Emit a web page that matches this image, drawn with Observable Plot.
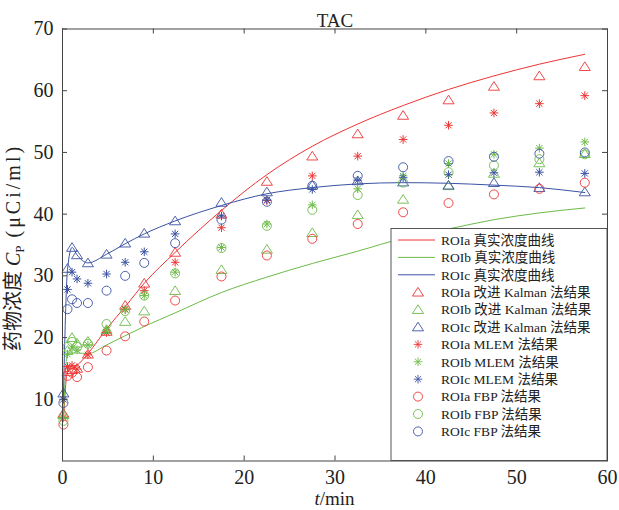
<!DOCTYPE html>
<html><head><meta charset="utf-8">
<script src="https://cdn.jsdelivr.net/npm/d3@7"></script>
<script src="https://cdn.jsdelivr.net/npm/@observablehq/plot@0.6"></script>
<style>body{margin:0;background:#fff;}</style>
</head><body><div id="chart"></div>
<script>
// sample times (min)
const times = [0.1, 0.55, 1.05, 1.6, 2.8, 4.85, 6.9, 9, 12.4, 17.5, 22.5, 27.5, 32.5, 37.5, 42.5, 47.5, 52.5, 57.5];
// true concentration curves
const trueA = [6.5, 14.5, 15, 15.5, 17.4, 21.4, 25, 28.8, 33.8, 40.6, 46.4, 51, 54.6, 57.6, 60.2, 62.4, 64.3, 65.9];
const trueB = [7, 17.5, 17.5, 17.5, 17.4, 18.8, 20.3, 21.8, 24, 27.3, 29.8, 32, 34, 36.1, 37.6, 39.1, 40.2, 41];
const trueC = [10.5, 31, 34.6, 33.4, 32.1, 33.5, 35.2, 36.8, 38.9, 41.4, 43.3, 44.3, 44.9, 45.1, 45, 44.7, 44.3, 43.5];
// improved Kalman
const kalA = [7.7, 14.5, 14.8, 15, 17.3, 21, 25.2, 28.8, 33.8, 40, 45.3, 49.4, 53, 56, 58.5, 60.7, 62.4, 63.9];
const kalB = [7.5, 17.9, 20, 19.1, 19.4, 21.3, 22.6, 24.3, 27.6, 31, 34.3, 37, 39.9, 42.4, 44.6, 46.6, 48.3, 49.8];
const kalC = [11, 31.2, 34.6, 33.4, 32.1, 33.5, 35.3, 36.9, 38.9, 41.9, 43.6, 44.7, 45.4, 45.2, 44.7, 45.1, 44.3, 43.6];
// MLEM
const mlemA = [7.1, 15.3, 15.5, 14.9, 17.2, 20.8, 24.6, 27.6, 32.2, 37.8, 42.2, 46.2, 49.4, 52.1, 54.4, 56.4, 57.9, 59.2];
const mlemB = [7, 17.3, 18.3, 18, 18.8, 21.2, 24.5, 26.8, 30.6, 34.6, 38.4, 41.5, 44.1, 46.2, 48.2, 49.7, 50.7, 51.7];
const mlemC = [10, 27.8, 30.6, 29.5, 28.8, 30.3, 32.2, 33.9, 36.8, 39.7, 42.3, 44, 45.5, 45.9, 46.4, 46.7, 46.8, 46.6];
// FBP
const fbpA = [5.9, 13.8, 14.3, 13.6, 15.2, 17.9, 20.2, 22.6, 26, 29.9, 33.3, 36, 38.4, 40.3, 41.8, 43.2, 44.1, 45.1];
const fbpB = [6.5, 18.5, 19.3, 18.5, 19, 22.2, 24.3, 26.8, 30.4, 34.5, 38.1, 40.7, 43.1, 45.1, 46.8, 47.9, 48.9, 49.7];
const fbpC = [9.4, 24.6, 26.2, 25.6, 25.6, 27.6, 30, 32.1, 35.3, 39.1, 42, 44.6, 46.2, 47.6, 48.6, 49.3, 49.8, 50];

const xTicks = [0, 10, 20, 30, 40, 50, 60];
const yTicks = [10, 20, 30, 40, 50, 60, 70];
const legendLabels = [
  "ROIa 真实浓度曲线", "ROIb 真实浓度曲线", "ROIc 真实浓度曲线",
  "ROIa 改进 Kalman 法结果", "ROIb 改进 Kalman 法结果", "ROIc 改进 Kalman 法结果",
  "ROIa MLEM 法结果", "ROIb MLEM 法结果", "ROIc MLEM 法结果",
  "ROIa FBP 法结果", "ROIb FBP 法结果", "ROIc FBP 法结果"
];

const RED = "#ec3535", GREEN = "#6cbb48", BLUE = "#3b52a3";
const colors = [RED, GREEN, BLUE];
const FONT = "'Liberation Serif', 'Noto Sans CJK SC', serif";

const triSym = {draw(ctx, size) {
  const r = Math.sqrt(size / Math.PI);
  const w = r * 1.15;
  ctx.moveTo(0, -r); ctx.lineTo(w, r * 0.8); ctx.lineTo(-w, r * 0.8); ctx.closePath();
}};
const starSym = {draw(ctx, size) {
  const r = Math.sqrt(size / Math.PI);
  const d = r * 0.72;
  ctx.moveTo(-r, 0); ctx.lineTo(r, 0);
  ctx.moveTo(0, -r); ctx.lineTo(0, r);
  ctx.moveTo(-d, -d); ctx.lineTo(d, d);
  ctx.moveTo(-d, d); ctx.lineTo(d, -d);
}};
const circSym = {draw(ctx, size) {
  const r = Math.sqrt(size / Math.PI);
  ctx.moveTo(r, 0); ctx.arc(0, 0, r, 0, 2 * Math.PI);
}};

const rows = (arr) => times.map((t, i) => ({t, v: arr[i]}));
const trues = [trueA, trueB, trueC];
const kals = [kalA, kalB, kalC];
const mlems = [mlemA, mlemB, mlemC];
const fbps = [fbpA, fbpB, fbpC];

const W = 619, H = 510;
const mT = 28.5, mB = 49.5, mL = 62, mR = 12;
const pw = W - mL - mR, ph = H - mT - mB;
const TICK = 5;

const marks = [];
trues.forEach((a, i) => marks.push(Plot.line(rows(a), {x: "t", y: "v", stroke: colors[i], strokeWidth: 1, curve: "monotone-x"})));
kals.forEach((a, i) => marks.push(Plot.dot(rows(a), {x: "t", y: "v", symbol: triSym, r: 4.8, stroke: colors[i], fill: "none", strokeWidth: 0.9})));
mlems.forEach((a, i) => marks.push(Plot.dot(rows(a), {x: "t", y: "v", symbol: starSym, r: 4.3, stroke: colors[i], fill: "none", strokeWidth: 1})));
fbps.forEach((a, i) => marks.push(Plot.dot(rows(a), {x: "t", y: "v", symbol: circSym, r: 4.5, stroke: colors[i], fill: "none", strokeWidth: 0.9})));

const chart = Plot.plot({
  width: W, height: H,
  marginTop: mT, marginBottom: mB, marginLeft: mL, marginRight: mR,
  style: {fontFamily: FONT, fontSize: "20px", background: "white", color: "#222"},
  x: {domain: [0, 60]},
  y: {domain: [0, 70]},
  marks: [
    ...marks,
    Plot.frame({stroke: "#444", strokeWidth: 1}),
    Plot.tickX(xTicks, {x: d => d, insetTop: ph - TICK, stroke: "#444"}),
    Plot.tickX(xTicks, {x: d => d, insetBottom: ph - TICK, stroke: "#444"}),
    Plot.tickY(yTicks, {y: d => d, insetRight: pw - TICK, stroke: "#444"}),
    Plot.tickY(yTicks, {y: d => d, insetLeft: pw - TICK, stroke: "#444"}),
    Plot.axisX(xTicks, {tickSize: 0, tickPadding: 9, label: null, fontSize: 20, fill: "#222"}),
    Plot.axisY(yTicks, {tickSize: 0, tickPadding: 9, label: null, fontSize: 20, fill: "#222"}),
    Plot.text(["TAC"], {frameAnchor: "top", dy: -16, fontSize: 19, fill: "#222"})
  ]
});
document.getElementById("chart").appendChild(chart);

const svg = d3.select(chart);
// x label
const xl = svg.append("text").attr("x", mL + pw / 2).attr("y", 505).attr("text-anchor", "middle")
  .attr("font-size", 19).attr("font-family", FONT).attr("fill", "#222");
xl.append("tspan").attr("font-style", "italic").text("t");
xl.append("tspan").text("/min");
// y label
const yl = svg.append("text").attr("transform", `translate(20,${mT + ph / 2 + 3}) rotate(-90)`)
  .attr("text-anchor", "middle").attr("font-size", 20).attr("font-family", FONT).attr("fill", "#222");
yl.append("tspan").text("药物浓度 ");
yl.append("tspan").attr("font-style", "italic").text("C");
yl.append("tspan").attr("font-size", 13).attr("dy", 4).text("P");
yl.append("tspan").attr("dy", -4).attr("letter-spacing", 3).text(" (μCi/ml)");

// legend
const lg = svg.append("g").attr("text-anchor", "start");
lg.append("rect").attr("x", 391).attr("y", mT + 200).attr("width", W - mR - 391).attr("height", ph - 200)
  .attr("fill", "white").attr("stroke", "#444").attr("stroke-width", 0.9);
const syms = [triSym, starSym, circSym];
const radii = [4.8, 4.3, 4.5];
legendLabels.forEach((lab, i) => {
  const y = 240 + i * 17.4;
  const c = colors[i % 3];
  if (i < 3) {
    lg.append("line").attr("x1", 398).attr("x2", 435).attr("y1", y).attr("y2", y).attr("stroke", c).attr("stroke-width", 1);
  } else {
    const k = Math.floor(i / 3) - 1;
    lg.append("path").attr("transform", `translate(418,${y})`)
      .attr("d", d3.symbol().type(syms[k]).size(Math.PI * radii[k] * radii[k])())
      .attr("fill", "none").attr("stroke", c).attr("stroke-width", 0.9);
  }
  lg.append("text").attr("x", 441).attr("y", y).attr("dy", "0.35em").attr("font-size", 13.5)
    .attr("text-anchor", "start").attr("font-family", FONT).attr("fill", "#222").text(lab);
});
</script>
</body></html>
